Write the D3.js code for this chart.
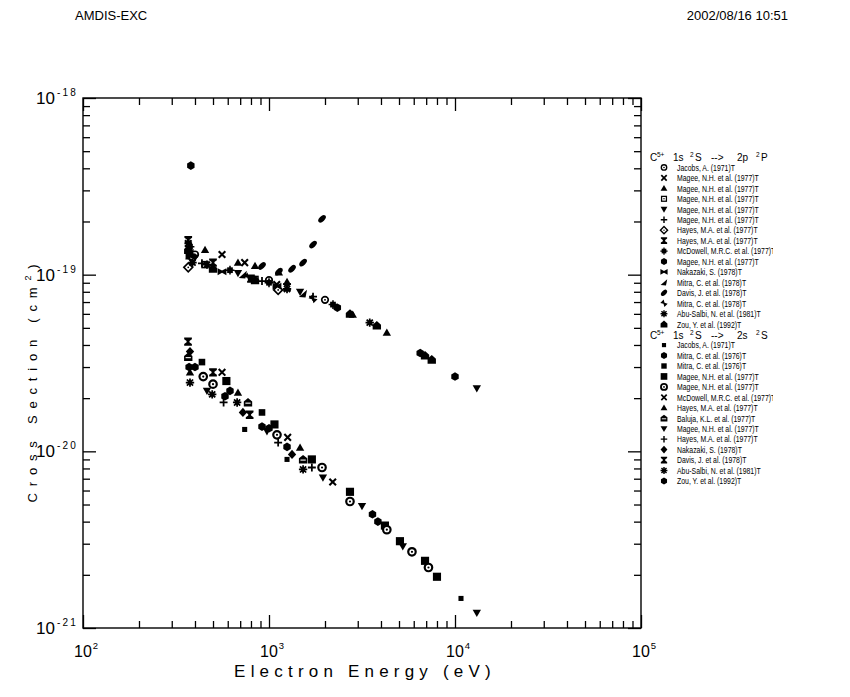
<!DOCTYPE html>
<html>
<head>
<meta charset="utf-8">
<script src="https://cdn.jsdelivr.net/npm/d3@7"></script>
<style>
  body { margin: 0; background: #fff; }
  svg { display: block; }
  text { font-family: "Liberation Sans", Arial, sans-serif; fill: #000; }
</style>
</head>
<body>
<svg id="chart" width="850" height="697"></svg>
<script>
// ---- axis tick labels (powers of ten) ----
const xTickExponents = [2, 3, 4, 5];
const yTickExponents = [-18, -19, -20, -21];

// ---- C5+ 1s 2S -> 2p 2P : [energy (eV), cross section (cm^2)] ----
const p2Jacobs     = [[400, 1.30e-19], [1000, 9.3e-20], [2000, 7.2e-20]];
const p2MageeX     = [[368, 1.50e-19], [559, 1.30e-19], [740, 1.17e-19], [1100, 8.8e-20]];
const p2MageeTri   = [[453, 1.38e-19], [681, 1.17e-19], [841, 1.12e-19], [1130, 1.03e-19], [1250, 9.1e-20], [2820, 5.94e-20], [4300, 4.7e-20]];
const p2MageeSq    = [[453, 1.14e-19], [841, 9.4e-20]];
const p2MageeTriDn = [[400, 1.25e-19], [681, 1.02e-19], [1469, 8.0e-20], [13100, 2.27e-20]];
const p2MageePlus  = [[436, 1.16e-19], [917, 9.2e-20], [1725, 7.5e-20]];
const p2HayesDia   = [[368, 1.10e-19], [1120, 8.2e-20]];
const p2HayesI     = [[368, 1.57e-19], [500, 1.17e-19], [800, 9.5e-20], [1250, 8.5e-20]];
const p2McDowell   = [[376, 1.44e-19], [617, 1.06e-19], [1000, 9.0e-20], [2208, 6.77e-20]];
const p2MageeHex   = [[380, 4.14e-19], [2330, 6.5e-20], [6500, 3.6e-20], [10000, 2.65e-20]];
const p2Nakazaki   = [[376, 1.27e-19], [559, 1.04e-19], [1104, 8.6e-20]];
const p2Mitra1     = [[376, 1.33e-19], [724, 1.0e-19], [1525, 7.8e-20]];
const p2Davis      = [[917, 1.12e-19], [1130, 1.04e-19], [1330, 1.08e-19], [1525, 1.17e-19], [1725, 1.48e-19], [1928, 2.07e-19]];
const p2Mitra2     = [[376, 1.22e-19], [771, 9.7e-20], [1725, 7.3e-20]];
const p2AbuSalbi   = [[388, 1.17e-19], [464, 1.14e-19], [1250, 8.3e-20], [3480, 5.35e-20]];
const p2Zou        = [[368, 1.38e-19], [500, 1.08e-19], [841, 9.3e-20], [2725, 6.0e-20], [3800, 5.15e-20], [6900, 3.48e-20], [7500, 3.3e-20]];

// ---- C5+ 1s 2S -> 2s 2S ----
const s2Jacobs     = [[740, 1.33e-20], [1250, 9.0e-21], [10770, 1.47e-21]];
const s2MitraHex   = [[400, 3.0e-20], [617, 2.2e-20], [1000, 1.35e-20]];
const s2MitraSq    = [[436, 3.2e-20], [917, 1.66e-20]];
const s2MageeSq    = [[590, 2.5e-20], [1070, 1.42e-20], [1700, 9.0e-21], [2725, 5.9e-21], [4200, 3.8e-21], [5058, 3.1e-21], [6900, 2.4e-21], [8000, 1.95e-21]];
const s2MageeRing  = [[443, 2.65e-20], [500, 2.4e-20], [1104, 1.24e-20], [1928, 8.1e-21], [2725, 5.2e-21], [4300, 3.6e-21], [5870, 2.7e-21], [7200, 2.2e-21]];
const s2McDowell   = [[559, 2.8e-20], [1260, 1.2e-20], [2200, 6.7e-21]];
const s2HayesTri   = [[376, 2.8e-20], [681, 2.15e-20], [1469, 1.05e-20]];
const s2Baluja     = [[368, 3.42e-20], [771, 1.89e-20], [1525, 9.0e-21]];
const s2MageeTriDn = [[464, 2.2e-20], [975, 1.3e-20], [1950, 7.1e-21], [3162, 4.9e-21], [5240, 2.9e-21], [13100, 1.22e-21]];
const s2HayesPlus  = [[570, 1.89e-20], [1120, 1.12e-20], [1700, 8.1e-21]];
const s2Nakazaki   = [[376, 3.67e-20], [724, 1.66e-20], [1330, 9.6e-21]];
const s2Davis      = [[367, 4.18e-20], [500, 2.8e-20], [787, 1.61e-20]];
const s2AbuSalbi   = [[376, 2.45e-20], [495, 2.1e-20], [674, 1.89e-20], [1525, 7.9e-21]];
const s2Zou        = [[372, 3.0e-20], [580, 2.05e-20], [917, 1.38e-20], [1250, 1.06e-20], [3600, 4.4e-21], [3850, 4.0e-21]];

const series2p = [
  { label: "Jacobs, A. (1971)T",            marker: "circleDot",  data: p2Jacobs },
  { label: "Magee, N.H. et al. (1977)T",    marker: "cross",      data: p2MageeX },
  { label: "Magee, N.H. et al. (1977)T",    marker: "triUp",      data: p2MageeTri },
  { label: "Magee, N.H. et al. (1977)T",    marker: "sqOpen",     data: p2MageeSq },
  { label: "Magee, N.H. et al. (1977)T",    marker: "triDown",    data: p2MageeTriDn },
  { label: "Magee, N.H. et al. (1977)T",    marker: "plus",       data: p2MageePlus },
  { label: "Hayes, M.A. et al. (1977)T",    marker: "diamondOpen",data: p2HayesDia },
  { label: "Hayes, M.A. et al. (1977)T",    marker: "ibeam",      data: p2HayesI },
  { label: "McDowell, M.R.C. et al. (1977)T", marker: "star",     data: p2McDowell },
  { label: "Magee, N.H. et al. (1977)T",    marker: "hex",        data: p2MageeHex },
  { label: "Nakazaki, S. (1978)T",          marker: "bowtie",     data: p2Nakazaki },
  { label: "Mitra, C. et al. (1978)T",      marker: "wedge",      data: p2Mitra1 },
  { label: "Davis, J. et al. (1978)T",      marker: "leaf",       data: p2Davis },
  { label: "Mitra, C. et al. (1978)T",      marker: "bowtieSm",   data: p2Mitra2 },
  { label: "Abu-Salbi, N. et al. (1981)T",  marker: "asterisk",   data: p2AbuSalbi },
  { label: "Zou, Y. et al. (1992)T",        marker: "house",      data: p2Zou }
];

const series2s = [
  { label: "Jacobs, A. (1971)T",            marker: "sqSmall",    data: s2Jacobs },
  { label: "Mitra, C. et al. (1976)T",      marker: "hex",        data: s2MitraHex },
  { label: "Mitra, C. et al. (1976)T",      marker: "sqMid",      data: s2MitraSq },
  { label: "Magee, N.H. et al. (1977)T",    marker: "sqBig",      data: s2MageeSq },
  { label: "Magee, N.H. et al. (1977)T",    marker: "ringDot",    data: s2MageeRing },
  { label: "McDowell, M.R.C. et al. (1977)T", marker: "cross",    data: s2McDowell },
  { label: "Hayes, M.A. et al. (1977)T",    marker: "triUp",      data: s2HayesTri },
  { label: "Baluja, K.L. et al. (1977)T",   marker: "baluja",     data: s2Baluja },
  { label: "Magee, N.H. et al. (1977)T",    marker: "triDown",    data: s2MageeTriDn },
  { label: "Hayes, M.A. et al. (1977)T",    marker: "plus",       data: s2HayesPlus },
  { label: "Nakazaki, S. (1978)T",          marker: "diamond",    data: s2Nakazaki },
  { label: "Davis, J. et al. (1978)T",      marker: "ibeam",      data: s2Davis },
  { label: "Abu-Salbi, N. et al. (1981)T",  marker: "asterisk",   data: s2AbuSalbi },
  { label: "Zou, Y. et al. (1992)T",        marker: "hex",        data: s2Zou }
];

// ---- layout ----
const svg = d3.select("#chart");
const plot = { left: 83, right: 641, top: 98, bottom: 628 };

const x = d3.scaleLog().domain([1e2, 1e5]).range([plot.left, plot.right]);
const y = d3.scaleLog().domain([1e-21, 1e-18]).range([plot.bottom, plot.top]);

// page header
svg.append("text").attr("x", 75).attr("y", 20).attr("font-size", 13).text("AMDIS-EXC");
svg.append("text").attr("x", 788).attr("y", 20).attr("font-size", 13)
  .attr("text-anchor", "end").text("2002/08/16 10:51");

// ---- frame and inward ticks on all four sides ----
const isMajor = v => Math.abs(Math.log10(v) - Math.round(Math.log10(v))) < 1e-9;
const xMinor = x.ticks().filter(v => !isMajor(v));
const xMajor = x.ticks().filter(isMajor);
const yMinor = y.ticks().filter(v => !isMajor(v));
const yMajor = y.ticks().filter(isMajor);

function ticks(axis, pos, values, len) {
  const g = svg.append("g").attr("transform", pos)
    .call(axis.tickValues(values).tickSize(-len).tickFormat(""));
  g.select(".domain").remove();
  g.selectAll("line").attr("stroke", "#000").attr("stroke-width", 1.3);
}
[[xMinor, 7], [xMajor, 13]].forEach(([v, l]) => {
  ticks(d3.axisBottom(x), `translate(0,${plot.bottom})`, v, l);
  ticks(d3.axisTop(x), `translate(0,${plot.top})`, v, l);
});
[[yMinor, 7], [yMajor, 13]].forEach(([v, l]) => {
  ticks(d3.axisLeft(y), `translate(${plot.left},0)`, v, l);
  ticks(d3.axisRight(y), `translate(${plot.right},0)`, v, l);
});

svg.append("rect")
  .attr("x", plot.left).attr("y", plot.top)
  .attr("width", plot.right - plot.left).attr("height", plot.bottom - plot.top)
  .attr("fill", "none").attr("stroke", "#000").attr("stroke-width", 1.4);

// ---- tick labels 10^n ----
xTickExponents.forEach(e => {
  const t = svg.append("text").attr("x", x(Math.pow(10, e)) - 9).attr("y", 657)
    .attr("font-size", 16);
  t.append("tspan").text("10");
  t.append("tspan").attr("font-size", 9.5).attr("dy", -8).attr("dx", 1).text(String(e));
});
yTickExponents.forEach(e => {
  const t = svg.append("text").attr("x", 36).attr("y", y(Math.pow(10, e)) + 6)
    .attr("font-size", 17);
  t.append("tspan").text("10");
  t.append("tspan").attr("font-size", 10).attr("dy", -8).attr("dx", 2)
    .attr("letter-spacing", 2.2).text("-" + String(-e));
});

// ---- axis titles ----
svg.append("text")
  .attr("x", 365).attr("y", 677)
  .attr("text-anchor", "middle").attr("font-size", 17)
  .attr("letter-spacing", 5.2)
  .text("Electron Energy (eV)");

const yt = svg.append("text")
  .attr("transform", "translate(37,380) rotate(-90)")
  .attr("text-anchor", "middle").attr("font-size", 13)
  .attr("letter-spacing", 6.8);
yt.append("tspan").text("Cross Section (cm");
yt.append("tspan").attr("font-size", 9).attr("dy", -6).text("2");
yt.append("tspan").attr("dy", 6).text(")");

// ---- marker glyphs ----
function marker(g, type) {
  const k = "#000";
  const path = d => g.append("path").attr("d", d);
  switch (type) {
    case "circleDot":
      g.append("circle").attr("r", 3).attr("fill", "#fff").attr("stroke", k).attr("stroke-width", 1.5);
      g.append("circle").attr("r", 0.9).attr("fill", k); break;
    case "ringDot":
      g.append("circle").attr("r", 3.4).attr("fill", "#fff").attr("stroke", k).attr("stroke-width", 2);
      g.append("circle").attr("r", 1).attr("fill", k); break;
    case "cross":
      path("M-3,-3L3,3M-3,3L3,-3").attr("stroke", k).attr("stroke-width", 1.9); break;
    case "plus":
      path("M-3.6,0H3.6M0,-3.6V3.6").attr("stroke", k).attr("stroke-width", 1.6); break;
    case "triUp":
      path("M0,-3.8L3.8,2.8H-3.8Z").attr("fill", k); break;
    case "triDown":
      path("M0,3.8L3.8,-2.8H-3.8Z").attr("fill", k); break;
    case "sqOpen":
      g.append("rect").attr("x", -2.7).attr("y", -2.7).attr("width", 5.4).attr("height", 5.4)
        .attr("fill", "#fff").attr("stroke", k).attr("stroke-width", 1.4);
      g.append("circle").attr("r", 0.8).attr("fill", k); break;
    case "diamondOpen":
      path("M0,-4L4,0L0,4L-4,0Z").attr("fill", "#fff").attr("stroke", k).attr("stroke-width", 1.5);
      g.append("circle").attr("r", 0.8).attr("fill", k); break;
    case "ibeam":
      path("M-3.5,-3.8H3.5V-2.2L1.3,-0.6V0.6L3.5,2.2V3.8H-3.5V2.2L-1.3,0.6V-0.6L-3.5,-2.2Z").attr("fill", k); break;
    case "star":
      g.append("rect").attr("x", -2.6).attr("y", -2.6).attr("width", 5.2).attr("height", 5.2).attr("fill", k);
      path("M-4,0H4M0,-4V4").attr("stroke", k).attr("stroke-width", 1.4); break;
    case "hex":
      path(d3.range(6).map(i => {
        const a = Math.PI / 6 + i * Math.PI / 3;
        return (i ? "L" : "M") + (3.9 * Math.cos(a)).toFixed(2) + "," + (3.9 * Math.sin(a)).toFixed(2);
      }).join("") + "Z").attr("fill", k); break;
    case "bowtie":
      path("M-4,-3.2L0,-1L4,-3.2V3.2L0,1L-4,3.2Z").attr("fill", k); break;
    case "bowtieSm":
      path("M-3.2,-2.6L0,-0.8L3.2,-2.6V2.6L0,0.8L-3.2,2.6Z").attr("fill", k)
        .attr("transform", "rotate(45)"); break;
    case "wedge":
      path("M-3.8,3L3.6,-3.6L2.2,3.4Z").attr("fill", k); break;
    case "leaf":
      g.append("ellipse").attr("rx", 4.2).attr("ry", 2.4).attr("transform", "rotate(-45)").attr("fill", k); break;
    case "asterisk":
      path("M-3.8,0H3.8M0,-3.8V3.8M-2.8,-2.8L2.8,2.8M-2.8,2.8L2.8,-2.8").attr("stroke", k).attr("stroke-width", 1.6);
      g.append("circle").attr("r", 1.8).attr("fill", k); break;
    case "house":
      path("M0,-4.2L3.8,-0.8V3.6H-3.8V-0.8Z").attr("fill", k); break;
    case "baluja":
      path("M0,-4L3.8,-1V3.6H-3.8V-1Z").attr("fill", k);
      path("M-2.4,0.6H2.4").attr("stroke", "#fff").attr("stroke-width", 1); break;
    case "diamond":
      path("M0,-4.2L3.8,0L0,4.2L-3.8,0Z").attr("fill", k); break;
    case "sqSmall":
      g.append("rect").attr("x", -2.3).attr("y", -2.3).attr("width", 4.6).attr("height", 4.6).attr("fill", k); break;
    case "sqMid":
      g.append("rect").attr("x", -3).attr("y", -3).attr("width", 6).attr("height", 6).attr("fill", k); break;
    case "sqBig":
      g.append("rect").attr("x", -3.7).attr("y", -3.7).attr("width", 7.4).attr("height", 7.4).attr("fill", k); break;
  }
}

// ---- data points ----
const marks = svg.append("g");
[series2p, series2s].forEach(group => {
  group.forEach(s => {
    s.data.forEach(([e, sigma]) => {
      const g = marks.append("g").attr("transform", `translate(${x(e)},${y(sigma)}) scale(1.1)`);
      marker(g, s.marker);
    });
  });
});

// ---- legend (clipped at the page edge of the plotter output) ----
svg.append("clipPath").attr("id", "legendClip")
  .append("rect").attr("x", 640).attr("y", 90).attr("width", 133).attr("height", 420);
const legend = svg.append("g").attr("clip-path", "url(#legendClip)");
const rowH = 10.45;

function header(yy, lowerTerm, upperL) {
  const mono = '"DejaVu Sans Mono", monospace';
  const t = legend.append("text").attr("y", yy + 4).attr("font-family", mono).attr("font-size", 10);
  t.append("tspan").attr("x", 650).text("C");
  t.append("tspan").attr("x", 657).attr("dy", -4).attr("font-size", 6.5).text("5+");
  t.append("tspan").attr("x", 673).attr("dy", 4).text("1s");
  t.append("tspan").attr("x", 690).attr("dy", -4).attr("font-size", 6.5).text("2");
  t.append("tspan").attr("x", 695).attr("dy", 4).text("S");
  t.append("tspan").attr("x", 711).text("-->");
  t.append("tspan").attr("x", 737).text(lowerTerm);
  t.append("tspan").attr("x", 756).attr("dy", -4).attr("font-size", 6.5).text("2");
  t.append("tspan").attr("x", 761).attr("dy", 4).text(upperL);
}

function legendBlock(list, y0) {
  list.forEach((s, i) => {
    const yy = y0 + i * rowH;
    marker(legend.append("g").attr("transform", `translate(664,${yy}) scale(0.9)`), s.marker);
    legend.append("g").attr("transform", `translate(677,${yy + 3.3}) scale(0.72,1)`)
      .append("text").attr("font-size", 9.6).text(s.label);
  });
}

const yHead1 = 157;
header(yHead1, "2p", "P");
legendBlock(series2p, yHead1 + rowH);
const yHead2 = yHead1 + (series2p.length + 1) * rowH;
header(yHead2, "2s", "S");
legendBlock(series2s, yHead2 + rowH);
</script>
</body>
</html>
